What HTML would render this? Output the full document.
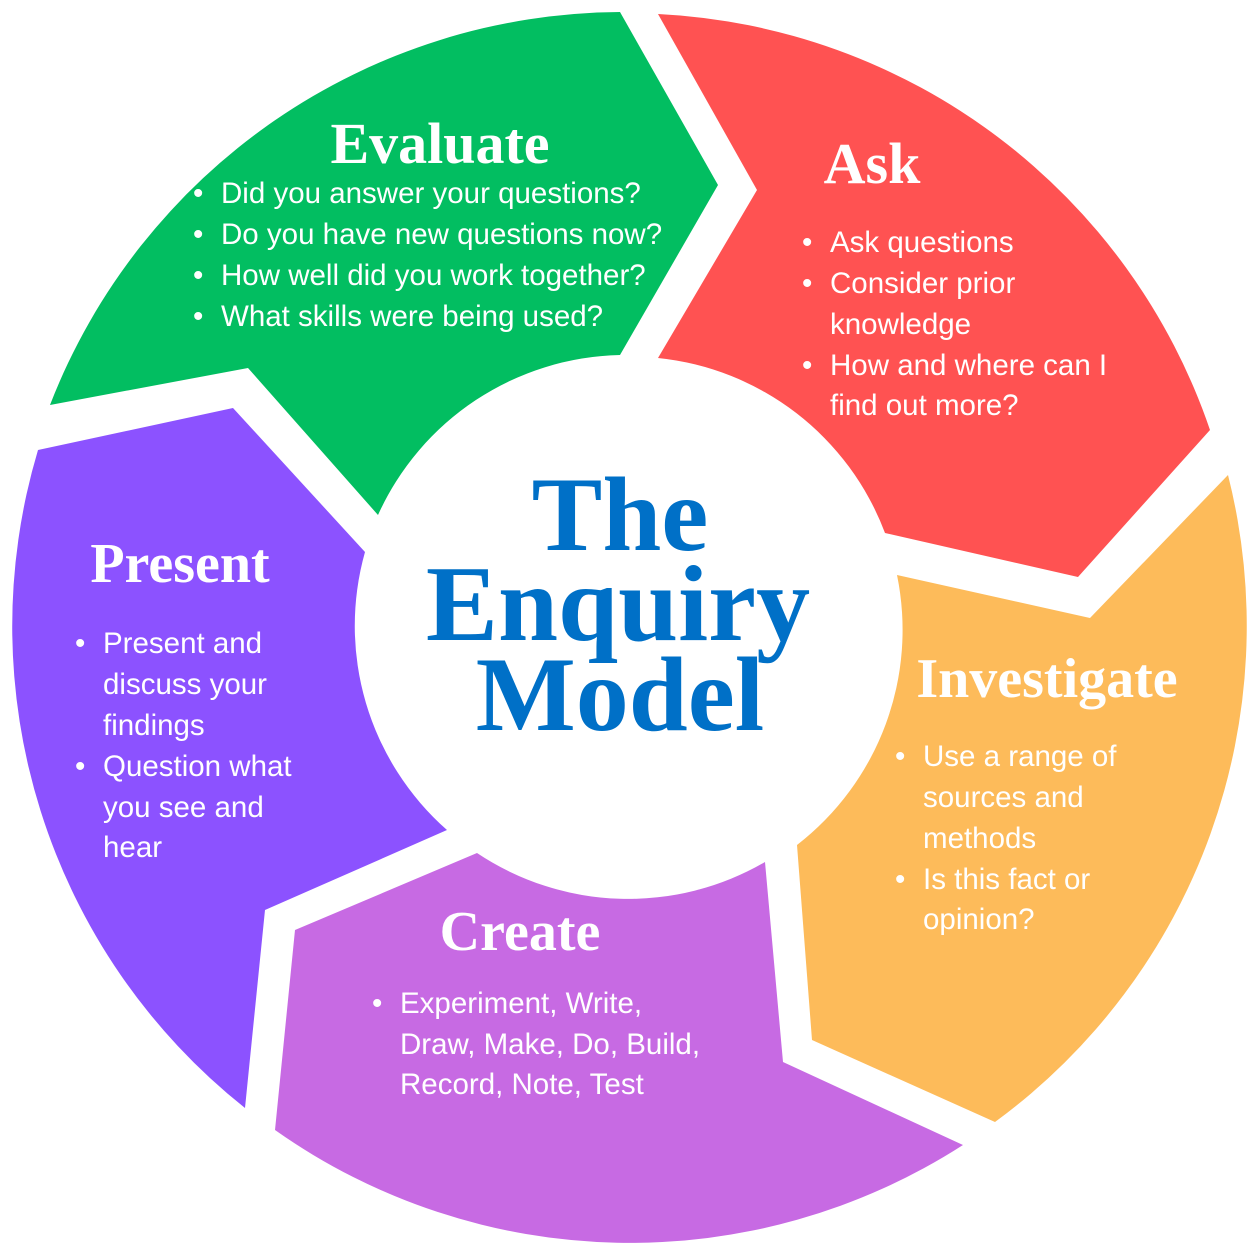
<!DOCTYPE html>
<html><head><meta charset="utf-8"><style>
html,body{margin:0;padding:0;background:#fff;}
svg{display:block;}
.h{font-family:"Liberation Serif",serif;font-weight:bold;fill:#fff;}
.t{font-family:"Liberation Sans",sans-serif;font-size:29.5px;fill:#fff;}
.m{font-family:"Liberation Serif",serif;font-weight:bold;fill:#0070c7;text-anchor:middle;}
</style></head><body>
<svg width="1260" height="1260" viewBox="0 0 1260 1260" xmlns="http://www.w3.org/2000/svg">
<path fill="#02be61" d="M50,405 A615,615 0 0 1 620,12 L718,185 L620,355 A272,272 0 0 0 378,515 L248,368 Z"/>
<path fill="#ff5252" d="M658,14 A615,615 0 0 1 1210,430 L1078,577 L885,533 A272,272 0 0 0 658,358 L757,190 Z"/>
<path fill="#fdbb5a" d="M1228,475 A615,615 0 0 1 995,1122 L812,1040 L797,845 A272,272 0 0 0 897,575 L1090,618 Z"/>
<path fill="#c76ae3" d="M963,1145 A615,615 0 0 1 275,1130 L295,930 L477,853 A272,272 0 0 0 765,862 L783,1062 Z"/>
<path fill="#8c52ff" d="M245,1108 A615,615 0 0 1 38,450 L233,408 L365,552 A272,272 0 0 0 447,830 L265,910 Z"/>

<text class="h" x="440" y="163" font-size="58" text-anchor="middle">Evaluate</text>
<g class="t">
<text x="193" y="203">•</text><text x="221" y="203">Did you answer your questions?</text>
<text x="193" y="244">•</text><text x="221" y="244">Do you have new questions now?</text>
<text x="193" y="285">•</text><text x="221" y="285">How well did you work together?</text>
<text x="193" y="326">•</text><text x="221" y="326">What skills were being used?</text>
</g>

<text class="h" x="872" y="183" font-size="58" text-anchor="middle">Ask</text>
<g class="t">
<text x="802" y="252">•</text><text x="830" y="252">Ask questions</text>
<text x="802" y="293">•</text><text x="830" y="293">Consider prior</text>
<text x="830" y="334">knowledge</text>
<text x="802" y="375">•</text><text x="830" y="375">How and where can I</text>
<text x="830" y="415">find out more?</text>
</g>

<text class="h" x="1047" y="697" font-size="56" text-anchor="middle">Investigate</text>
<g class="t">
<text x="895" y="766">•</text><text x="923" y="766">Use a range of</text>
<text x="923" y="807">sources and</text>
<text x="923" y="848">methods</text>
<text x="895" y="889">•</text><text x="923" y="889">Is this fact or</text>
<text x="923" y="929">opinion?</text>
</g>

<text class="h" x="520" y="950" font-size="56" text-anchor="middle">Create</text>
<g class="t">
<text x="372" y="1013">•</text><text x="400" y="1013">Experiment, Write,</text>
<text x="400" y="1054">Draw, Make, Do, Build,</text>
<text x="400" y="1094">Record, Note, Test</text>
</g>

<text class="h" x="180" y="582" font-size="56" text-anchor="middle">Present</text>
<g class="t">
<text x="75" y="653">•</text><text x="103" y="653">Present and</text>
<text x="103" y="694">discuss your</text>
<text x="103" y="735">findings</text>
<text x="75" y="776">•</text><text x="103" y="776">Question what</text>
<text x="103" y="817">you see and</text>
<text x="103" y="857">hear</text>
</g>

<text class="m" x="620" y="550" font-size="106">The</text>
<text class="m" x="618" y="640" font-size="108">Enquiry</text>
<text class="m" x="620" y="730" font-size="106">Model</text>
</svg>
</body></html>
